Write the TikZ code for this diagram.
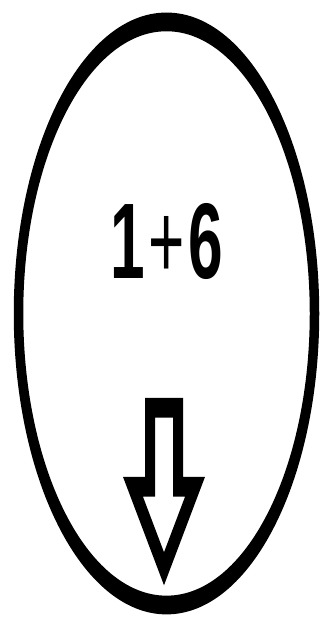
\documentclass[tikz,border=0pt]{standalone}
\usepackage{fontspec}
\setmainfont{Liberation Sans}
\usepackage{tikz}

\begin{document}
\begin{tikzpicture}[x=1pt,y=1pt]
    \useasboundingbox (0,0) rectangle (321,620);
    % the whole sign is stretched upright, strokes too
    \begin{scope}[transform canvas={yscale=1.97}]
    \draw [line width=9.5pt] (166.5,155.6) circle [radius=148];
    \draw [line width=10pt,line join=miter] (150,107.7)--(178,107.7)--(178,67.6)--(195,67.6)--(164,26)--(133,67.6)--(150,67.6)--cycle;
    \end{scope}
    \node [inner sep=0pt,xscale=0.622,yscale=1.075,font=\fontsize{100}{100}\selectfont\bfseries] (sum) at (167,378.5){1\kern0.06em{\mdseries+}\kern0.06em6};

\end{tikzpicture}
\end{document}
